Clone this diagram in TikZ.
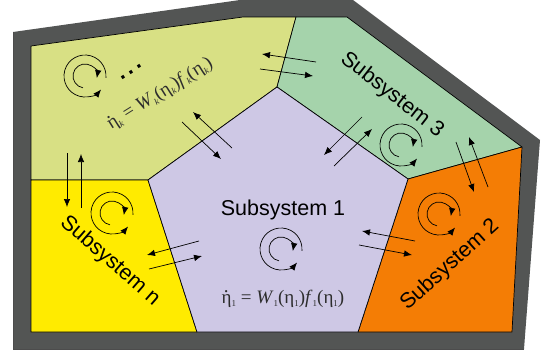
\documentclass[tikz,border=0pt]{standalone}
\usepackage{xcolor}
\usepackage{fontspec}
\usetikzlibrary{arrows.meta}
\setmainfont{Liberation Sans}
\newfontfamily\eqfont{Liberation Serif}
\definecolor{framegray}{RGB}{83,85,84}
\definecolor{olivefill}{RGB}{216,224,132}
\definecolor{greenfill}{RGB}{165,211,171}
\definecolor{lilacfill}{RGB}{206,200,229}
\definecolor{orangefill}{RGB}{244,125,5}
\definecolor{yellowfill}{RGB}{255,235,0}
\definecolor{eqtext}{RGB}{45,45,45}
\newcommand{\lowsub}[1]{\raisebox{-0.35ex}{\fontsize{9}{9}\selectfont #1}}
\newcommand{\etadot}{\makebox[0pt][l]{\hspace{0.12em}\raisebox{0.6em}{.}}η}

\begin{document}
\begin{tikzpicture}[
  x=1pt, y=-1pt,
  region/.style={draw=black, line width=0.7pt, line join=round},
  label/.style={font=\fontsize{21.5}{21.5}\selectfont, inner sep=0pt},
  eqn/.style={font=\eqfont\fontsize{19}{19}\selectfont, text=eqtext, inner sep=0pt},
  arr/.style={-{Latex[length=8pt, width=6.5pt]}, line width=0.7pt},
  spin/.pic={
    \draw[arr] (-5:21pt) arc[start angle=-5, end angle=320, radius=21pt];
    \draw[arr] (-100:12pt) arc[start angle=260, end angle=-10, radius=12pt];
  },
]
  \useasboundingbox (0,0) rectangle (547,359);

  % frame
  \fill[framegray] (13,32) -- (240,0) -- (353,0) -- (540,140) -- (524,349) -- (13,349) -- cycle;
  \draw[black!70, line width=0.5pt] (13,32) -- (13,349) -- (524,349);

  % corners of the regions
  \coordinate (tl) at (31,46);
  \coordinate (tm) at (243,17);
  \coordinate (tg) at (296,17);
  \coordinate (tr) at (347,17);
  \coordinate (rt) at (522,147);
  \coordinate (br) at (512,332);
  \coordinate (bl) at (31,332);
  \coordinate (lm) at (31,180);
  \coordinate (p1) at (277,87);
  \coordinate (p2) at (408,179);
  \coordinate (p3) at (358,332);
  \coordinate (p4) at (197,332);
  \coordinate (p5) at (148,180);

  \draw[region, fill=olivefill] (tl) -- (tm) -- (tg) -- (p1) -- (p5) -- (lm) -- cycle;
  \draw[region, fill=greenfill] (tg) -- (tr) -- (rt) -- (p2) -- (p1) -- cycle;
  \draw[region, fill=orangefill] (p2) -- (rt) -- (br) -- (p3) -- cycle;
  \draw[region, fill=yellowfill] (lm) -- (p5) -- (p4) -- (bl) -- cycle;
  \draw[region, fill=lilacfill] (p1) -- (p2) -- (p3) -- (p4) -- (p5) -- cycle;

  \node[label] (sub1) at (283,210) {Subsystem 1};
  \node[label, rotate=42] (sub2) at (450,265) {Subsystem 2};
  \node[label, rotate=-38] (sub3) at (392,95) {Subsystem 3};
  \node[label, rotate=-41] (subn) at (110,261) {Subsystem n};

  \node[eqn] (eq1) at (283,299)
    {\etadot\lowsub{1} = \textit{W}\lowsub{1}(η\lowsub{1})\textit{f}\lowsub{1}(η\lowsub{1})};
  \node[eqn, rotate=32] (eqk) at (160,94)
    {\etadot\lowsub{\textit{k}} = \textit{W}\lowsub{\textit{k}}(η\lowsub{\textit{k}})\textit{f}\lowsub{\textit{k}}(η\lowsub{\textit{k}})};
  \node[font=\bfseries\fontsize{22}{22}\selectfont, inner sep=0pt, rotate=33] (dots) at (131,72)
    {.\hspace{3.5pt}.\hspace{3.5pt}.};

  \pic at (281,249) {spin};
  \pic at (439,214) {spin};
  \pic at (401,145) {spin};
  \pic at (112,213) {spin};
  \pic at (85,76) {spin};

  % exchange arrows
  \coordinate (a1s) at (182,122);  \coordinate (a1e) at (221,159);
  \coordinate (a2s) at (232,148);  \coordinate (a2e) at (193,112);
  \coordinate (b1s) at (316,62);   \coordinate (b1e) at (262,54);
  \coordinate (b2s) at (260,69);   \coordinate (b2e) at (313,76);
  \coordinate (c1s) at (362,117);  \coordinate (c1e) at (324,155);
  \coordinate (c2s) at (334,166);  \coordinate (c2e) at (372,129);
  \coordinate (d1s) at (456,142);  \coordinate (d1e) at (474,192);
  \coordinate (d2s) at (488,187);  \coordinate (d2e) at (469,137);
  \coordinate (e1s) at (415,241);  \coordinate (e1e) at (362,231);
  \coordinate (e2s) at (359,245);  \coordinate (e2e) at (412,255);
  \coordinate (f1s) at (199,241);  \coordinate (f1e) at (147,255);
  \coordinate (f2s) at (149,269);  \coordinate (f2e) at (202,256);
  \coordinate (g1s) at (67,153);   \coordinate (g1e) at (67,207);
  \coordinate (g2s) at (81,208);   \coordinate (g2e) at (81,154);

  \draw[arr] (a1s) -- (a1e);
  \draw[arr] (a2s) -- (a2e);
  \draw[arr] (b1s) -- (b1e);
  \draw[arr] (b2s) -- (b2e);
  \draw[arr] (c1s) -- (c1e);
  \draw[arr] (c2s) -- (c2e);
  \draw[arr] (d1s) -- (d1e);
  \draw[arr] (d2s) -- (d2e);
  \draw[arr] (e1s) -- (e1e);
  \draw[arr] (e2s) -- (e2e);
  \draw[arr] (f1s) -- (f1e);
  \draw[arr] (f2s) -- (f2e);
  \draw[arr] (g1s) -- (g1e);
  \draw[arr] (g2s) -- (g2e);
\end{tikzpicture}
\end{document}
